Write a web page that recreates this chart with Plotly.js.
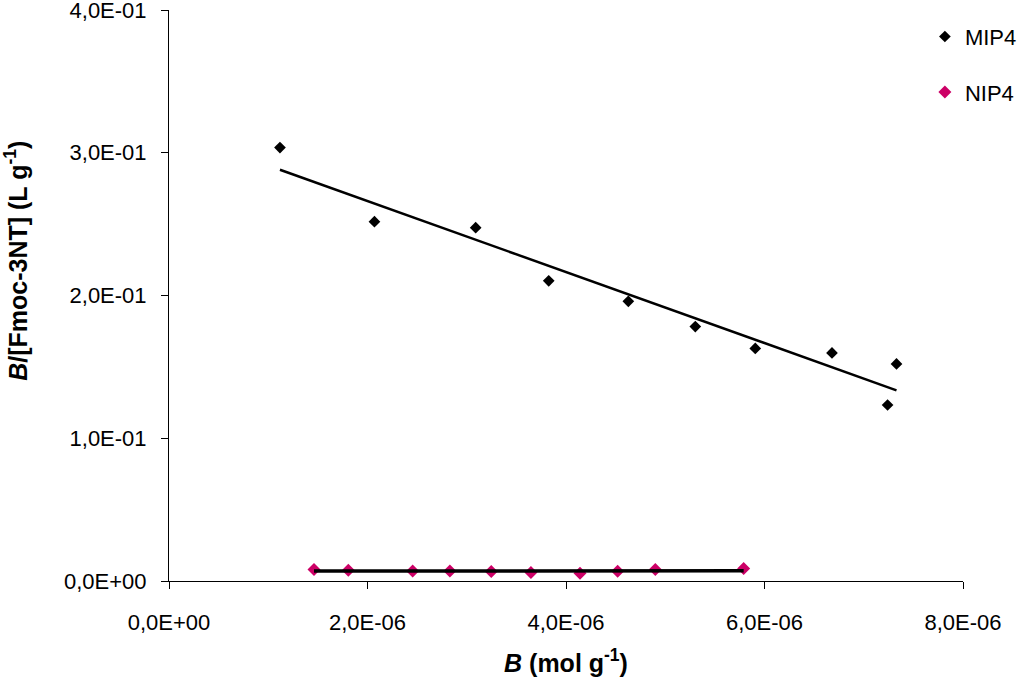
<!DOCTYPE html>
<html>
<head>
<meta charset="utf-8">
<script src="https://cdn.plot.ly/plotly-3.0.1.min.js"></script>
<style>html,body{margin:0;padding:0;background:#fff;}#chart{width:1024px;height:677px;}</style>
</head>
<body>
<div id="chart"></div>
<script>
// MIP4 series
const mipB = [1.118e-6, 2.07e-6, 3.09e-6, 3.826e-6, 4.628e-6, 5.303e-6, 5.907e-6, 6.68e-6, 7.24e-6, 7.33e-6];
const mipRatio = [0.3036, 0.2517, 0.2475, 0.2103, 0.1959, 0.1782, 0.1629, 0.1598, 0.1233, 0.1521];
// NIP4 series
const nipB = [1.461e-6, 1.807e-6, 2.455e-6, 2.83e-6, 3.247e-6, 3.647e-6, 4.141e-6, 4.52e-6, 4.90e-6, 5.79e-6];
const nipRatio = [0.0080, 0.0075, 0.0070, 0.0070, 0.0066, 0.0059, 0.0054, 0.0068, 0.0080, 0.0087];
// tick labels
const xTickVals = [0, 2e-6, 4e-6, 6e-6, 8e-6];
const xTickText = ['0,0E+00', '2,0E-06', '4,0E-06', '6,0E-06', '8,0E-06'];
const yTickVals = [0, 0.1, 0.2, 0.3, 0.4];
const yTickText = ['0,0E+00', '1,0E-01', '2,0E-01', '3,0E-01', '4,0E-01'];

function linFit(xs, ys) {
  const n = xs.length;
  const mx = xs.reduce((a, b) => a + b, 0) / n;
  const my = ys.reduce((a, b) => a + b, 0) / n;
  let sxy = 0, sxx = 0;
  for (let i = 0; i < n; i++) { sxy += (xs[i] - mx) * (ys[i] - my); sxx += (xs[i] - mx) ** 2; }
  const m = sxy / sxx, c = my - m * mx;
  const x0 = Math.min(...xs), x1 = Math.max(...xs);
  return { x: [x0, x1], y: [m * x0 + c, m * x1 + c] };
}
const mipFit = linFit(mipB, mipRatio);
const nipFit = linFit(nipB, nipRatio);

const FONT = 'Liberation Sans, Arial, sans-serif';

const traces = [
  { x: mipB, y: mipRatio, mode: 'markers', name: 'MIP4', legendgroup: 'a',
    marker: { symbol: 'diamond', size: 9, color: '#000000' } },
  { x: nipB, y: nipRatio, mode: 'markers', name: 'NIP4', legendgroup: 'b',
    marker: { symbol: 'diamond', size: 10, color: '#cc0066' } },
  { x: mipFit.x, y: mipFit.y, mode: 'lines', showlegend: false, hoverinfo: 'skip',
    line: { color: '#000000', width: 2.5 } },
  { x: nipFit.x, y: nipFit.y, mode: 'lines', showlegend: false, hoverinfo: 'skip',
    line: { color: '#000000', width: 3.5 } }
];

const layout = {
  width: 1024, height: 677,
  paper_bgcolor: '#ffffff', plot_bgcolor: '#ffffff',
  margin: { l: 169, r: 61, t: 10, b: 96, autoexpand: false },
  font: { family: FONT, color: '#000000', size: 22 },
  showlegend: true,
  legend: { x: 0.952, xanchor: 'left', y: 0.99, yanchor: 'top', tracegroupgap: 24,
            font: { family: FONT, size: 22, color: '#000' }, bgcolor: 'rgba(0,0,0,0)' },
  xaxis: {
    range: [0, 8e-6], tickvals: xTickVals, ticktext: xTickText,
    showgrid: false, zeroline: false, showline: true, linecolor: '#000', linewidth: 1,
    ticks: 'outside', ticklen: 7, tickcolor: '#000', tickwidth: 1, ticklabeloverflow: 'allow',
    tickfont: { family: FONT, size: 22, color: '#000' }, ticklabelstandoff: 15,
    title: { text: '<b><i>B</i> (mol g<sup>-1</sup>)</b>', font: { family: FONT, size: 25, color: '#000' }, standoff: 24 }
  },
  yaxis: {
    range: [0, 0.4], tickvals: yTickVals, ticktext: yTickText,
    showgrid: false, zeroline: false, showline: true, linecolor: '#000', linewidth: 1,
    ticks: 'outside', ticklen: 7, tickcolor: '#000', tickwidth: 1, ticklabeloverflow: 'allow',
    tickfont: { family: FONT, size: 22, color: '#000' }, ticklabelstandoff: 10
  },
  annotations: [
    { text: '<b><i>B</i>/[Fmoc-3NT] (L g<sup>-1</sup>)</b>', textangle: -90,
      xref: 'paper', yref: 'paper', x: -0.192, y: 0.56, xanchor: 'center', yanchor: 'middle',
      showarrow: false, font: { family: FONT, size: 25, color: '#000' } }
  ]
};

Plotly.newPlot('chart', traces, layout, { displayModeBar: false, staticPlot: true });
</script>
</body>
</html>
